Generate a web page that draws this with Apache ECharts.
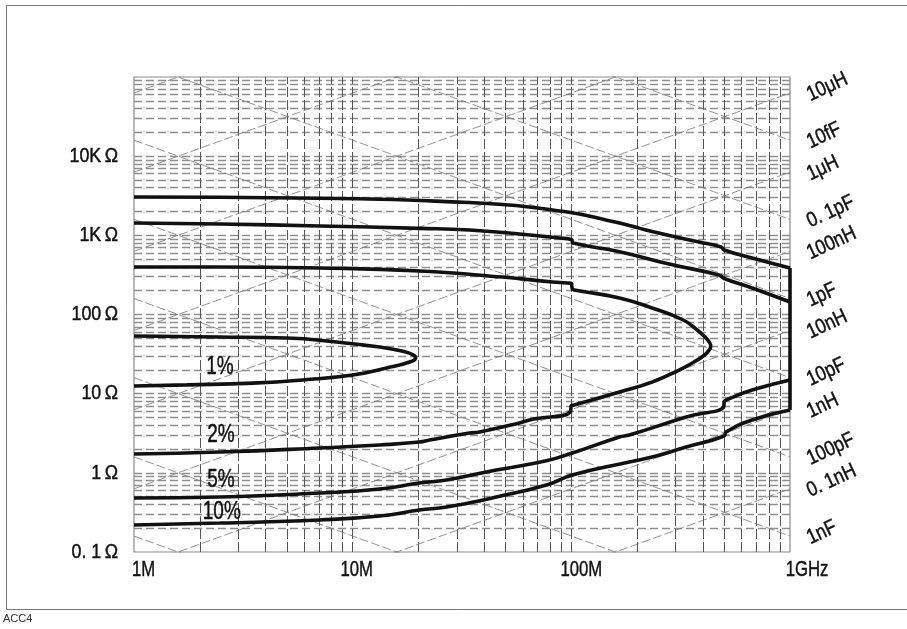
<!DOCTYPE html>
<html><head><meta charset="utf-8">
<script src="https://cdn.jsdelivr.net/npm/echarts@6/dist/echarts.min.js"></script>
<style>html,body{margin:0;padding:0;background:#fff}#c{width:907px;height:629px}</style>
</head><body><div id="c"></div>
<script>
// ---- axis ticks / labels ----
const xTicks = [1, 10, 100, 1000];                 // MHz
const xTickLabels = ['1M', '10M', '100M', '1GHz'];
const yTicks = [0.1, 1, 10, 100, 1000, 10000, 100000]; // ohm
const yTickLabels = ['0. 1Ω', '1Ω', '10Ω', '100Ω', '1KΩ', '10KΩ', ''];

// ---- accuracy contours: [frequency MHz, |Z| ohm] ----
const curve1 = [[1,53.5],[2.47,52.0],[5.0,50.5],[8.45,44.9],[13.3,38.8],[16.8,34.5],[18.9,31.0],[19.4,28.5],[18.2,25.1],[14.3,21.1],[10,17.2],[5.91,14.9],[3.49,13.6],[1.75,12.9],[1,12.5]];
const curve2 = [[1,398],[2.47,398],[7.07,387],[20.2,354],[48.4,297],[81.9,257],[95.9,250],[100,246],[101,212],[103,204],[166,162],[234,121],[325,85.2],[376,63.7],[409,52.0],[428,44.5],[434,40.0],[425,35.0],[401,29.9],[364,25.1],[311,19.9],[234,14.0],[166,10.5],[103,7.19],[100,7.1],[99,5.87],[64.3,4.65],[57.9,4.26],[38.0,3.28],[34.2,3.18],[22.5,2.60],[20.2,2.45],[13.3,2.25],[7.07,2.06],[2.47,1.83],[1,1.73]];
const curve5Upper = [[1,1430],[2.47,1390],[7.07,1312],[20.2,1226],[34.2,1168],[57.9,1039],[88.2,925],[100,885],[102,800],[166,621],[280,434],[474,315],[500,285],[671,216],[1000,144]];
const curve5Lower = [[1000,14.9],[671,11.1],[510,8.31],[500,7.9],[498,6.9],[335,5.07],[184,3.00],[166,2.84],[101,1.78],[76.9,1.42],[45.4,1.085],[26.9,0.812],[20.2,0.744],[13.3,0.625],[7.07,0.556],[2.47,0.495],[1,0.481]];
const curve10Upper = [[1,3048],[2.47,3021],[7.07,2935],[13.3,2859],[20.2,2753],[34.2,2597],[48.4,2451],[64.3,2279],[81.9,2088],[108.8,1859],[144,1561],[184,1330],[234,1118],[384,823],[484,712],[500,652],[671,517],[1000,387]];
const curve10Lower = [[1000,6.22],[671,4.65],[510,3.28],[500,2.92],[335,2.12],[234,1.58],[184,1.37],[101,0.939],[76.9,0.702],[45.4,0.495],[26.9,0.370],[20.2,0.339],[13.3,0.285],[7.07,0.254],[2.47,0.232],[1,0.219]];
const curveNames = ['1%', '2%', '5%', '10%'];
const curveLabelAt = [[2.47,21.7],[2.50,3.00],[2.50,0.812],[2.52,0.320]];

// ---- constant L / C reference lines ----
const inductances = [1e-10,1e-9,1e-8,1e-7,1e-6,1e-5,1e-4,1e-3,1e-2];      // H
const capacitances = [1e-14,1e-13,1e-12,1e-11,1e-10,1e-9,1e-8,1e-7,1e-6]; // F
const lNames = ['0. 1nH','1nH','10nH','100nH','1μH','10μH'];
const lLabelValues = [1e-10,1e-9,1e-8,1e-7,1e-6,1e-5];
const cNames = ['10fF','0. 1pF','1pF','10pF','100pF','1nF'];
const cLabelValues = [1e-14,1e-13,1e-12,1e-11,1e-10,1e-9];

const FONT = "'Liberation Sans', Arial, sans-serif";
const INK = '#111';
const TWO_PI = 2 * Math.PI;
const zL = (L, fMHz) => TWO_PI * fMHz * 1e6 * L;
const zC = (C, fMHz) => 1 / (TWO_PI * fMHz * 1e6 * C);

const fMin = xTicks[0], fMax = xTicks[xTicks.length - 1];
const zMin = yTicks[0], zMax = yTicks[yTicks.length - 1];

// grid lines (log sub-divisions)
const vLines = [], hLines = [];
for (let d = 0; d < 3; d++) for (let m = 1; m <= 9; m++) {
  const f = m * Math.pow(10, d);
  if (f > fMin && f < fMax) vLines.push({coords: [[f, zMin], [f, zMax]]});
}
for (let d = -1; d < 5; d++) for (let m = 1; m <= 9; m++) {
  const z = +(m * Math.pow(10, d)).toPrecision(6);
  if (z > zMin && z < zMax) hLines.push({coords: [[fMin, z], [fMax, z]]});
}
const diag = [];
inductances.forEach(L => diag.push({coords: [[fMin, zL(L, fMin)], [fMax, zL(L, fMax)]]}));
capacitances.forEach(C => diag.push({coords: [[fMin, zC(C, fMin)], [fMax, zC(C, fMax)]]}));

const rightNames = lNames.concat(cNames);
const rightData = lLabelValues.map((L, i) => [fMax, zL(L, fMax), i])
  .concat(cLabelValues.map((C, i) => [fMax, zC(C, fMax), lNames.length + i]));

// text drawn through the cartesian coordinate system (condensed like the original)
function textSeries(data, texts, cfg) {
  return {
    type: 'custom', coordinateSystem: 'cartesian2d', silent: true, z: 10, clip: false,
    data: data,
    renderItem: function (params, api) {
      const i = api.value(2);
      const p = api.coord([api.value(0), api.value(1)]);
      const off = cfg.offset(i);
      return {
        type: 'text', x: p[0] + off[0], y: p[1] + off[1],
        rotation: cfg.rotation || 0, scaleX: cfg.scaleX,
        style: {
          text: cfg.format ? cfg.format(texts[i]) : texts[i],
          fontFamily: FONT, fontSize: cfg.fontSize, fill: INK,
          stroke: INK, lineWidth: 0.45,
          align: cfg.align, verticalAlign: 'middle', rich: cfg.rich
        }
      };
    }
  };
}
const xShift = [9.5, 4, 10, 17];
const omega = s => s.replace('Ω', '{o|Ω}');

const chart = echarts.init(document.getElementById('c'), null, {renderer: 'canvas'});
const curveStyle = {color: '#111', width: 3.6};
const curveSeries = (name, data) => ({type: 'line', name: name, data: data, symbol: 'none', smooth: 0.5,
  lineStyle: curveStyle, z: 5, clip: false, silent: true});
const option = {
  backgroundColor: '#fff',
  animation: false,
  grid: {left: 134, right: 117, top: 77, bottom: 77, show: true, borderColor: '#8a8a8a', borderWidth: 1.2, containLabel: false},
  xAxis: {type: 'log', logBase: 10, min: fMin, max: fMax, splitNumber: 3,
    axisLine: {show: false}, axisTick: {show: false}, splitLine: {show: false}, axisLabel: {show: false}},
  yAxis: {type: 'log', logBase: 10, min: zMin, max: zMax, splitNumber: 6,
    axisLine: {show: false}, axisTick: {show: false}, splitLine: {show: false}, axisLabel: {show: false}},
  graphic: [
    {type: 'rect', shape: {x: 6.5, y: 5.5, width: 920, height: 604}, style: {fill: 'none', stroke: '#777', lineWidth: 1}, silent: true, z: -1},
    {type: 'text', left: 3, top: 613, style: {text: 'ACC4', fontSize: 11, fontFamily: FONT, fill: '#333'}}
  ],
  series: [
    {type: 'lines', coordinateSystem: 'cartesian2d', silent: true, z: 1, data: hLines,
     lineStyle: {color: '#8f8f8f', width: 1.3, type: [8, 4], opacity: 1}},
    {type: 'lines', coordinateSystem: 'cartesian2d', silent: true, z: 1, data: vLines,
     lineStyle: {color: '#555', width: 1, type: [10, 3], opacity: 1}},
    {type: 'lines', coordinateSystem: 'cartesian2d', silent: true, z: 2, clip: true, data: diag,
     lineStyle: {color: '#777', width: 0.8, type: [9, 3], opacity: 1}},
    curveSeries('1%', curve1),
    curveSeries('2%', curve2),
    curveSeries('5%', curve5Upper),
    curveSeries('5%', curve5Lower),
    curveSeries('10%', curve10Upper),
    {type: 'line', name: '10%', data: [curve10Upper[curve10Upper.length - 1], curve10Lower[0]], symbol: 'none',
     lineStyle: curveStyle, z: 5, clip: false, silent: true},
    curveSeries('10%', curve10Lower),
    // tick labels
    textSeries(xTicks.map((v, i) => [v, zMin, i]), xTickLabels,
      {fontSize: 22, scaleX: 0.76, align: 'center', offset: i => [xShift[i], 18]}),
    textSeries(yTicks.map((v, i) => [fMin, v, i]), yTickLabels,
      {fontSize: 21, scaleX: 0.85, align: 'right', offset: i => [-16, 0], format: omega,
       rich: {o: {fontFamily: FONT, fontSize: 21, fill: INK, stroke: INK, lineWidth: 0.45, padding: [0, 0, 0, 4]}}}),
    // contour names
    textSeries(curveLabelAt.map((p, i) => [p[0], p[1], i]), curveNames,
      {fontSize: 25, scaleX: 0.76, align: 'center', offset: i => [0, 0]}),
    // L / C line names
    textSeries(rightData, rightNames,
      {fontSize: 21, scaleX: 0.84, align: 'left', rotation: 25 * Math.PI / 180, offset: i => [18, 3]})
  ]
};
chart.setOption(option);
</script></body></html>
